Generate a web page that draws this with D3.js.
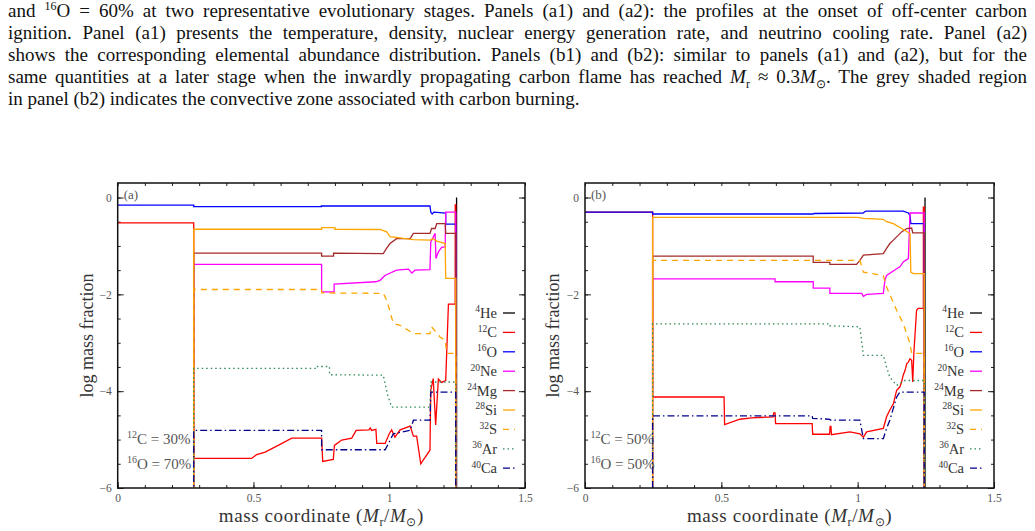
<!DOCTYPE html>
<html>
<head>
<meta charset="utf-8">
<script src="https://cdn.jsdelivr.net/npm/d3@7"></script>
<style>
  body { margin: 0; background: #fff; width: 1035px; height: 531px; overflow: hidden; position: relative; }
  #caption { position: absolute; left: 8px; top: 0px; width: 1019px; font-family: "Liberation Serif", serif; font-size: 19px; line-height: 22px; color: #111; }
  #caption div { height: 22px; text-align: justify; text-align-last: justify; }
  #caption div.last { text-align-last: left; }
  #caption sup, #caption sub { font-size: 12px; line-height: 0; }
  #chart { position: absolute; left: 0; top: 0; }
  .tick text { font-family: "Liberation Serif", serif; font-size: 11.5px; fill: #555; }
</style>
</head>
<body>
<div id="caption">
  <div>and <sup>16</sup>O = 60% at two representative evolutionary stages. Panels (a1) and (a2): the profiles at the onset of off-center carbon</div>
  <div>ignition. Panel (a1) presents the temperature, density, nuclear energy generation rate, and neutrino cooling rate. Panel (a2)</div>
  <div>shows the corresponding elemental abundance distribution. Panels (b1) and (b2): similar to panels (a1) and (a2), but for the</div>
  <div>same quantities at a later stage when the inwardly propagating carbon flame has reached <i>M</i><sub>r</sub> ≈ 0.3<i>M</i><sub>⊙</sub>. The grey shaded region</div>
  <div class="last">in panel (b2) indicates the convective zone associated with carbon burning.</div>
</div>
<script>
// species and styles (drawing order as in the original)
const species = ["He", "C", "O", "Ne", "Mg", "Si", "S", "Ar", "Ca"];
const massNumbers = ["4", "12", "16", "20", "24", "28", "32", "36", "40"];
const colors = ["#000000", "#ff0000", "#0000ff", "#ff00ff", "#a52a2a", "#ffa500", "#ffa500", "#2e8b57", "#00008b"];
const dashes = [null, null, null, null, null, null, "6,5", "1.5,3", "7,3,1.5,3"];

const xTicks = [0, 0.5, 1, 1.5];
const yTicks = [-6, -4, -2, 0];

// panel (a): 12C = 30%, 16O = 70%   [mass coordinate, log mass fraction]
const he_a = [[1.248, 0], [1.248, -7]];
const c_a = [[0, -0.523], [0.28, -0.523], [0.28, -5.39], [0.493, -5.39], [0.512, -5.31], [0.543, -5.26], [0.598, -5.1], [0.641, -4.97], [0.751, -4.97], [0.755, -5.45], [0.794, -5.41], [0.798, -5.12], [0.825, -5.01], [0.862, -4.97], [0.878, -4.81], [0.925, -4.8], [0.93, -4.76], [0.935, -4.81], [0.951, -4.79], [0.954, -5.08], [0.985, -5.08], [1.0, -4.88], [1.009, -4.8], [1.021, -4.95], [1.04, -4.8], [1.077, -4.72], [1.089, -4.93], [1.101, -4.93], [1.116, -5.5], [1.15, -5.22], [1.153, -3.98], [1.162, -3.74], [1.171, -4.7], [1.181, -3.75], [1.193, -3.82], [1.208, -3.78], [1.218, -2.2], [1.243, -2.2], [1.243, -0.15], [1.245, -0.15], [1.245, -7]];
const o_a = [[0, -0.155], [0.28, -0.155], [0.28, -0.19], [0.75, -0.19], [0.75, -0.175], [1.15, -0.175], [1.153, -0.3], [1.158, -0.34], [1.165, -0.3], [1.208, -0.32], [1.208, -0.55], [1.245, -0.55], [1.245, -7]];
const ne_a = [[0, -7], [0.28, -7], [0.28, -1.38], [0.751, -1.38], [0.751, -1.95], [0.797, -1.95], [0.797, -1.79], [0.95, -1.74], [0.966, -1.71], [0.984, -1.61], [1.027, -1.5], [1.071, -1.48], [1.083, -1.56], [1.095, -1.5], [1.15, -1.49], [1.153, -0.92], [1.169, -0.74], [1.172, -1.26], [1.181, -1.12], [1.193, -1.03], [1.206, -1.02], [1.208, -0.3], [1.245, -0.3], [1.245, -7]];
const mg_a = [[0, -7], [0.28, -7], [0.28, -1.15], [0.751, -1.15], [0.751, -1.21], [0.795, -1.21], [0.795, -1.15], [0.978, -1.16], [0.99, -1.05], [1.003, -0.95], [1.027, -0.85], [1.077, -0.85], [1.089, -0.74], [1.15, -0.74], [1.156, -0.64], [1.169, -0.64], [1.175, -0.54], [1.206, -0.54], [1.208, -0.74], [1.245, -0.74], [1.245, -7]];
const si_a = [[0, -7], [0.28, -7], [0.28, -0.655], [0.751, -0.655], [0.751, -0.62], [0.8, -0.62], [0.8, -0.655], [0.966, -0.66], [0.991, -0.71], [1.003, -0.81], [1.089, -0.87], [1.15, -0.88], [1.162, -0.85], [1.175, -0.9], [1.206, -0.95], [1.208, -1.67], [1.245, -1.67], [1.245, -7]];
const s_a = [[0, -7], [0.28, -7], [0.28, -1.9], [0.751, -1.9], [0.751, -1.97], [0.978, -1.98], [0.991, -2.12], [1.015, -2.6], [1.04, -2.64], [1.089, -2.81], [1.15, -2.81], [1.156, -2.67], [1.187, -2.88], [1.206, -2.95], [1.212, -3.22], [1.245, -3.22], [1.245, -7]];
const ar_a = [[0, -7], [0.28, -7], [0.28, -3.53], [0.73, -3.53], [0.73, -3.49], [0.78, -3.49], [0.78, -3.66], [0.978, -3.67], [0.995, -4.1], [1.009, -4.33], [1.15, -4.33], [1.153, -3.81], [1.245, -3.81], [1.245, -7]];
const ca_a = [[0, -7], [0.28, -7], [0.28, -4.81], [0.751, -4.81], [0.751, -5.21], [0.985, -5.21], [1.0, -5.05], [1.015, -4.88], [1.077, -4.81], [1.089, -4.6], [1.15, -4.6], [1.153, -4.02], [1.245, -4.02], [1.245, -7]];

// panel (b): 12C = 50%, 16O = 50%
const he_b = [[1.247, 0], [1.247, -7]];
const c_b = [[0, -0.301], [0.248, -0.301], [0.248, -4.12], [0.51, -4.12], [0.512, -4.69], [0.568, -4.58], [0.611, -4.55], [0.69, -4.53], [0.692, -4.45], [0.697, -4.45], [0.699, -4.67], [0.833, -4.67], [0.835, -4.89], [0.897, -4.89], [0.899, -4.73], [0.902, -4.73], [0.904, -4.9], [0.972, -4.84], [1.008, -4.88], [1.021, -4.95], [1.033, -4.84], [1.094, -4.77], [1.106, -4.53], [1.118, -4.39], [1.131, -4.26], [1.143, -3.98], [1.155, -3.91], [1.161, -3.81], [1.167, -3.67], [1.174, -3.57], [1.18, -3.43], [1.186, -3.4], [1.192, -3.33], [1.198, -3.36], [1.202, -3.81], [1.206, -3.22], [1.216, -2.33], [1.222, -2.29], [1.241, -2.29], [1.241, -0.2], [1.244, -0.2], [1.244, -7]];
const o_b = [[0, -0.301], [0.248, -0.301], [0.248, -0.34], [0.837, -0.34], [0.84, -0.33], [1.02, -0.32], [1.03, -0.28], [1.167, -0.28], [1.186, -0.32], [1.192, -0.37], [1.195, -0.54], [1.244, -0.54], [1.244, -7]];
const ne_b = [[0, -7], [0.248, -7], [0.248, -1.68], [0.697, -1.68], [0.697, -1.74], [0.837, -1.74], [0.837, -1.87], [0.898, -1.87], [0.898, -1.98], [1.015, -1.98], [1.021, -2.04], [1.033, -2.0], [1.094, -1.98], [1.1, -1.71], [1.106, -1.61], [1.143, -1.47], [1.155, -1.43], [1.167, -1.33], [1.186, -1.26], [1.192, -0.32], [1.244, -0.32], [1.244, -7]];
const mg_b = [[0, -7], [0.248, -7], [0.248, -1.21], [0.837, -1.21], [0.837, -1.34], [0.898, -1.34], [0.898, -1.38], [0.996, -1.38], [1.008, -1.3], [1.021, -1.19], [1.094, -1.16], [1.106, -1.05], [1.118, -0.95], [1.131, -0.88], [1.161, -0.71], [1.18, -0.64], [1.198, -0.63], [1.202, -0.73], [1.244, -0.73], [1.244, -7]];
const si_b = [[0, -7], [0.248, -7], [0.248, -0.41], [1.0, -0.41], [1.021, -0.43], [1.094, -0.45], [1.106, -0.5], [1.131, -0.54], [1.161, -0.64], [1.192, -0.74], [1.195, -1.54], [1.204, -1.57], [1.244, -1.57], [1.244, -7]];
const s_b = [[0, -7], [0.248, -7], [0.248, -1.3], [1.008, -1.3], [1.021, -1.54], [1.094, -1.61], [1.106, -1.85], [1.143, -2.33], [1.167, -2.6], [1.192, -3.02], [1.198, -3.22], [1.244, -3.22], [1.244, -7]];
const ar_b = [[0, -7], [0.248, -7], [0.248, -2.61], [0.898, -2.61], [0.898, -2.65], [1.008, -2.67], [1.021, -3.26], [1.094, -3.26], [1.106, -3.5], [1.118, -3.71], [1.143, -3.88], [1.155, -3.84], [1.167, -3.78], [1.244, -3.78], [1.244, -7]];
const ca_b = [[0, -7], [0.248, -7], [0.248, -4.51], [0.833, -4.51], [0.835, -4.56], [0.898, -4.58], [0.9, -4.6], [1.008, -4.6], [1.021, -4.98], [1.094, -4.98], [1.106, -4.77], [1.118, -4.6], [1.143, -4.12], [1.155, -4.02], [1.244, -4.02], [1.244, -7]];

const notes_a = [["12", "C = 30%"], ["16", "O = 70%"]];
const notes_b = [["12", "C = 50%"], ["16", "O = 50%"]];

const plotTop = 183, plotBottom = 488;

const panels = [
  { id: "a", label: "(a)", left: 117.7, right: 525, series: [he_a, c_a, o_a, ne_a, mg_a, si_a, s_a, ar_a, ca_a], notes: notes_a, noteX: 127, legendText: 497, legendLine: [503, 515], yLabelX: 93 },
  { id: "b", label: "(b)", left: 585, right: 994, series: [he_b, c_b, o_b, ne_b, mg_b, si_b, s_b, ar_b, ca_b], notes: notes_b, noteX: 590.5, legendText: 964, legendLine: [970, 982], yLabelX: 559 },
];

const svg = d3.select("body").append("svg")
  .attr("id", "chart")
  .attr("width", 1035)
  .attr("height", 531)
  .style("font-family", "'Liberation Serif', serif");

const defs = svg.append("defs");

function isotope(text, mass, sym, big, small) {
  text.append("tspan").attr("font-size", small).attr("dy", -big * 0.38).text(mass);
  text.append("tspan").attr("font-size", big).attr("dy", big * 0.38).text(sym);
}

panels.forEach((p) => {
  const x = d3.scaleLinear().domain([0, 1.5]).range([p.left, p.right]);
  const y = d3.scaleLinear().domain([-6, 0.3]).range([plotBottom, plotTop]);
  const w = p.right - p.left, h = plotBottom - plotTop;
  const g = svg.append("g");

  defs.append("clipPath").attr("id", "clip-" + p.id)
    .append("rect").attr("x", p.left).attr("y", plotTop).attr("width", w).attr("height", h);

  // minor ticks (inward, all four sides)
  const minorX = d3.range(0, 1.501, 0.1);
  const minorY = d3.range(-6, 0.01, 0.5);
  g.append("g").attr("transform", `translate(0,${plotBottom})`)
    .call(d3.axisBottom(x).tickValues(minorX).tickSize(-3).tickFormat(""));
  g.append("g").attr("transform", `translate(0,${plotTop})`)
    .call(d3.axisTop(x).tickValues(minorX).tickSize(-3).tickFormat(""));
  g.append("g").attr("transform", `translate(${p.left},0)`)
    .call(d3.axisLeft(y).tickValues(minorY).tickSize(-3).tickFormat(""));
  g.append("g").attr("transform", `translate(${p.right},0)`)
    .call(d3.axisRight(y).tickValues(minorY).tickSize(-3).tickFormat(""));

  // major ticks with labels
  g.append("g").attr("transform", `translate(0,${plotBottom})`)
    .call(d3.axisBottom(x).tickValues(xTicks).tickSize(-6).tickPadding(6).tickFormat(d3.format("")));
  g.append("g").attr("transform", `translate(${p.left},0)`)
    .call(d3.axisLeft(y).tickValues(yTicks).tickSize(-6).tickPadding(6).tickFormat(d3.format("d")));
  g.append("g").attr("transform", `translate(${p.right},0)`)
    .call(d3.axisRight(y).tickValues(yTicks).tickSize(-6).tickFormat(""));

  g.selectAll(".domain").remove();
  g.selectAll(".tick line").attr("stroke", "#222");

  // curves
  const line = d3.line().x((d) => x(d[0])).y((d) => y(d[1]));
  g.append("g").attr("clip-path", `url(#clip-${p.id})`)
    .selectAll("path")
    .data(p.series)
    .join("path")
    .attr("d", line)
    .attr("fill", "none")
    .attr("stroke", (d, i) => colors[i])
    .attr("stroke-width", 1.3)
    .attr("stroke-dasharray", (d, i) => dashes[i]);

  // frame
  g.append("rect")
    .attr("x", p.left).attr("y", plotTop).attr("width", w).attr("height", h)
    .attr("fill", "none").attr("stroke", "#111").attr("stroke-width", 1.5);

  // panel label
  g.append("text").attr("x", p.left + 6).attr("y", plotTop + 16)
    .attr("font-size", 13).attr("fill", "#555").text(p.label);

  // composition note
  p.notes.forEach((n, i) => {
    const t = g.append("text").attr("x", p.noteX).attr("y", 444 + i * 24.5)
      .attr("fill", "#555");
    isotope(t, n[0], n[1], 15, 10);
  });

  // legend
  species.forEach((s, i) => {
    const ly = 313 + i * 19.4;
    const t = g.append("text").attr("x", p.legendText).attr("y", ly + 5)
      .attr("text-anchor", "end").attr("fill", "#333");
    isotope(t, massNumbers[i], s, 14.5, 9.5);
    g.append("line")
      .attr("x1", p.legendLine[0]).attr("x2", p.legendLine[1])
      .attr("y1", ly).attr("y2", ly)
      .attr("stroke", colors[i]).attr("stroke-width", 1.3)
      .attr("stroke-dasharray", dashes[i]);
  });

  // axis titles
  svg.append("text")
    .attr("transform", `translate(${p.yLabelX},${(plotTop + plotBottom) / 2}) rotate(-90)`)
    .attr("text-anchor", "middle").attr("font-size", 18).attr("fill", "#333")
    .text("log mass fraction");

  const xl = svg.append("text")
    .attr("x", (p.left + p.right) / 2).attr("y", 522)
    .attr("text-anchor", "middle").attr("font-size", 19).attr("letter-spacing", 0.6).attr("fill", "#333");
  xl.append("tspan").text("mass coordinate (");
  xl.append("tspan").attr("font-style", "italic").text("M");
  xl.append("tspan").attr("font-size", 12).attr("dy", 4).text("r");
  xl.append("tspan").attr("dy", -4).text("/");
  xl.append("tspan").attr("font-style", "italic").text("M");
  xl.append("tspan").attr("font-size", 12).attr("dy", 4).text("⊙");
  xl.append("tspan").attr("dy", -4).text(")");
});
</script>
</body>
</html>
